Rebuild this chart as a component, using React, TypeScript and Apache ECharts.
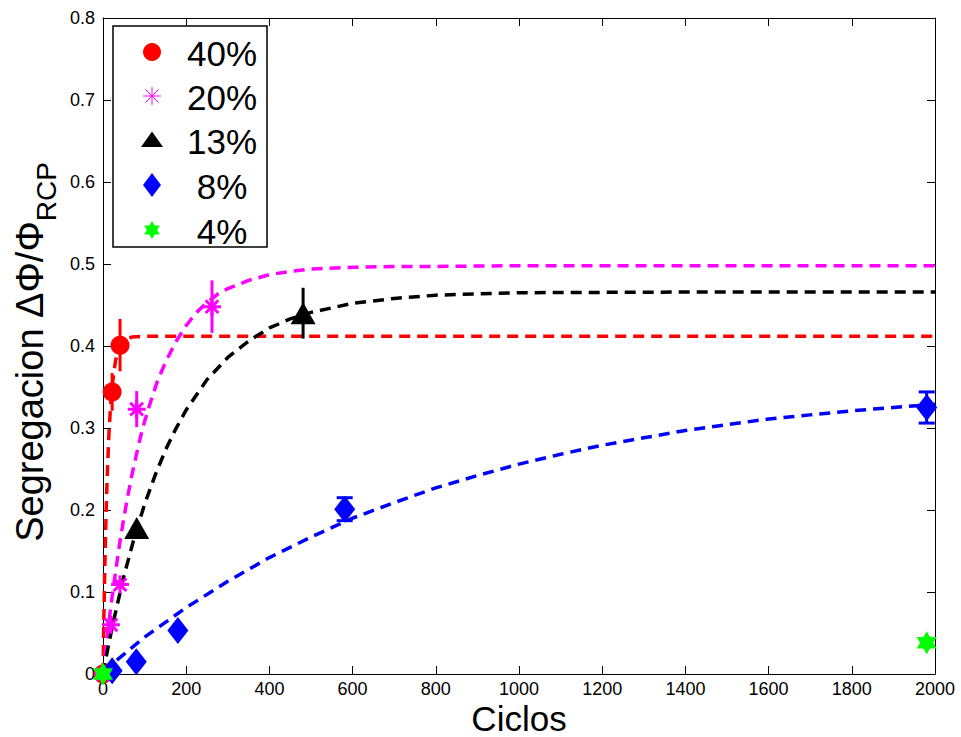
import React, { useEffect, useRef } from 'react';
import * as echarts from 'echarts';

const FONT = '"Liberation Sans", Arial, Helvetica, sans-serif';

// legend / series names and colours
const seriesNames = ['40%', '20%', '13%', '8%', '4%'];
const seriesColors = ['#ff0000', '#ff00ff', '#000000', '#0000ff', '#00ff00'];

// axis ticks
const xTickValues = [0, 200, 400, 600, 800, 1000, 1200, 1400, 1600, 1800, 2000];
const yTickValues = [0, 0.1, 0.2, 0.3, 0.4, 0.5, 0.6, 0.7, 0.8];

// measured points: cycles, segregation, error half-width
const red40X = [0, 22, 41];
const red40Y = [0, 0.344, 0.401];
const red40Err = [0, 0.023, 0.032];

const mag20X = [0, 19, 41, 81, 262];
const mag20Y = [0, 0.06, 0.109, 0.323, 0.448];
const mag20Err = [0, 0, 0, 0.022, 0.032];

const blk13X = [81, 481];
const blk13Y = [0.178, 0.44];
const blk13Err = [0, 0.031];

const blu8X = [22, 80, 180, 581, 1980];
const blu8Y = [0.004, 0.015, 0.053, 0.201, 0.325];
const blu8Err = [0, 0, 0, 0.014, 0.019];

const grn4X = [0, 1980];
const grn4Y = [0, 0.038];

// fitted curves (dashed)
const redFitX = [0, 1, 2, 4, 6, 8, 10, 14, 18, 22, 30, 40, 50, 70, 100, 2000];
const redFitY = [0, 0.034, 0.066, 0.121, 0.167, 0.206, 0.239, 0.29, 0.326, 0.351, 0.382, 0.399, 0.407, 0.411, 0.412, 0.412];

const magFitX = [0, 10, 20, 30, 40, 50, 60, 70, 80, 90, 100, 115, 130, 150, 175, 200, 225, 250, 275, 300, 350, 400, 450, 500, 600, 700, 800, 1000, 2000];
const magFitY = [0, 0.046, 0.087, 0.124, 0.159, 0.19, 0.218, 0.244, 0.267, 0.289, 0.308, 0.333, 0.356, 0.38, 0.405, 0.425, 0.441, 0.453, 0.463, 0.47, 0.48, 0.487, 0.491, 0.494, 0.496, 0.497, 0.497, 0.498, 0.498];

const blkFitX = [0, 10, 25, 50, 75, 100, 125, 150, 175, 200, 250, 300, 350, 400, 450, 500, 600, 700, 800, 1000, 1500, 2000];
const blkFitY = [0, 0.027, 0.064, 0.119, 0.166, 0.207, 0.242, 0.273, 0.299, 0.322, 0.359, 0.386, 0.406, 0.422, 0.433, 0.441, 0.452, 0.458, 0.462, 0.465, 0.466, 0.466];

const bluFitX = [0, 50, 100, 150, 200, 300, 400, 500, 600, 700, 800, 900, 1000, 1100, 1200, 1300, 1400, 1500, 1600, 1700, 1800, 1900, 2000];
const bluFitY = [0.003, 0.024, 0.045, 0.063, 0.081, 0.113, 0.142, 0.167, 0.19, 0.209, 0.227, 0.242, 0.256, 0.268, 0.279, 0.288, 0.297, 0.304, 0.311, 0.316, 0.321, 0.325, 0.329];

const zip = (xs: number[], ys: number[]) => xs.map((x, i) => [x, ys[i]]);
const errData = (xs: number[], ys: number[], es: number[]) =>
  xs.map((x, i) => [x, ys[i], es[i]]).filter((d) => d[2] > 0);

const ASTERISK = 'path://M0,-10L0,10M-10,0L10,0M-7.07,-7.07L7.07,7.07M-7.07,7.07L7.07,-7.07';
const HEXAGRAM = 'path://M0,-10L8.66,5L-8.66,5ZM0,10L-8.66,-5L8.66,-5Z';

function fitSeries(xs: number[], ys: number[], color: string) {
  return {
    type: 'line',
    data: zip(xs, ys),
    showSymbol: false,
    symbol: 'none',
    smooth: false,
    lineStyle: { color, width: 3.5, type: [11, 7] },
    z: 2,
    silent: true,
  };
}

function errSeries(data: number[][], color: string, cap: number) {
  return {
    type: 'custom',
    data,
    z: 3,
    silent: true,
    renderItem: (params: any, api: any) => {
      const x = api.value(0);
      const y = api.value(1);
      const e = api.value(2);
      const top = api.coord([x, y + e]);
      const bot = api.coord([x, y - e]);
      const children: any[] = [
        { type: 'line', shape: { x1: top[0], y1: top[1], x2: bot[0], y2: bot[1] }, style: { stroke: color, lineWidth: 3 } },
      ];
      if (cap > 0) {
        children.push({ type: 'line', shape: { x1: top[0] - cap, y1: top[1], x2: top[0] + cap, y2: top[1] }, style: { stroke: color, lineWidth: 3 } });
        children.push({ type: 'line', shape: { x1: bot[0] - cap, y1: bot[1], x2: bot[0] + cap, y2: bot[1] }, style: { stroke: color, lineWidth: 3 } });
      }
      return { type: 'group', children };
    },
  };
}

function scatterSeries(name: string, xs: number[], ys: number[], color: string, symbol: string, size: any, extra: any = {}) {
  return {
    name,
    type: 'scatter',
    data: zip(xs, ys),
    symbol,
    symbolSize: size,
    itemStyle: { color, opacity: 1, ...extra },
    z: 4,
    silent: true,
  };
}

function legendGraphic() {
  const rows = [52, 96, 140, 185, 230];
  const mx = 152;
  const children: any[] = [
    { type: 'rect', shape: { x: 113, y: 26, width: 154, height: 221 }, style: { fill: '#fff', stroke: '#000', lineWidth: 1.5 } },
  ];
  children.push({ type: 'circle', shape: { cx: mx, cy: rows[0], r: 9 }, style: { fill: seriesColors[0] } });
  const a = rows[1];
  const d = 6.4;
  [[0, -9, 0, 9], [-9, 0, 9, 0], [-d, -d, d, d], [-d, d, d, -d]].forEach((l) =>
    children.push({ type: 'line', shape: { x1: mx + l[0], y1: a + l[1], x2: mx + l[2], y2: a + l[3] }, style: { stroke: seriesColors[1], lineWidth: 1 } })
  );
  children.push({ type: 'polygon', shape: { points: [[mx, rows[2] - 8.5], [mx + 11, rows[2] + 7], [mx - 11, rows[2] + 7]] }, style: { fill: seriesColors[2] } });
  children.push({ type: 'polygon', shape: { points: [[mx, rows[3] - 12], [mx + 9, rows[3]], [mx, rows[3] + 12], [mx - 9, rows[3]]] }, style: { fill: seriesColors[3] } });
  const h = rows[4];
  children.push({ type: 'polygon', shape: { points: [[mx, h - 9], [mx + 7.8, h + 4.5], [mx - 7.8, h + 4.5]] }, style: { fill: seriesColors[4] } });
  children.push({ type: 'polygon', shape: { points: [[mx, h + 9], [mx + 7.8, h - 4.5], [mx - 7.8, h - 4.5]] }, style: { fill: seriesColors[4] } });
  seriesNames.forEach((n, i) =>
    children.push({
      type: 'text',
      x: 222,
      y: rows[i] + 1,
      style: { text: n, fill: '#000', font: `35px ${FONT}`, align: 'center', verticalAlign: 'middle' },
    })
  );
  return { type: 'group', z: 100, children };
}

export default function App() {
  const ref = useRef<HTMLDivElement>(null);
  useEffect(() => {
    if (!ref.current) return;
    const chart = echarts.init(ref.current, undefined, { renderer: 'svg' });
    const axisLine = { show: true, onZero: false, lineStyle: { color: '#000', width: 1 } };
    const axisTick = { show: true, inside: true, length: 8, lineStyle: { color: '#000', width: 1 } };
    const xMin = xTickValues[0];
    const xMax = xTickValues[xTickValues.length - 1];
    const xInt = xTickValues[1] - xTickValues[0];
    const yMin = yTickValues[0];
    const yMax = yTickValues[yTickValues.length - 1];
    const yInt = 0.1;
    const option: any = {
      animation: false,
      backgroundColor: '#fff',
      grid: { left: 103, right: 26, top: 18, bottom: 63, containLabel: false },
      xAxis: [
        {
          type: 'value', min: xMin, max: xMax, interval: xInt, position: 'bottom',
          axisLine, axisTick, splitLine: { show: false },
          axisLabel: { color: '#000', fontSize: 18, fontFamily: FONT, margin: 6, formatter: (v: number) => String(v) },
        },
        {
          type: 'value', min: xMin, max: xMax, interval: xInt, position: 'top',
          axisLine, axisTick, splitLine: { show: false }, axisLabel: { show: false },
        },
      ],
      yAxis: [
        {
          type: 'value', min: yMin, max: yMax, interval: yInt, position: 'left',
          axisLine, axisTick, splitLine: { show: false },
          axisLabel: { color: '#000', fontSize: 18, fontFamily: FONT, margin: 8, formatter: (v: number) => (v === 0 ? '0' : v.toFixed(1)) },
        },
        {
          type: 'value', min: yMin, max: yMax, interval: yInt, position: 'right',
          axisLine, axisTick, splitLine: { show: false }, axisLabel: { show: false },
        },
      ],
      series: [
        fitSeries(redFitX, redFitY, seriesColors[0]),
        fitSeries(magFitX, magFitY, seriesColors[1]),
        fitSeries(blkFitX, blkFitY, seriesColors[2]),
        fitSeries(bluFitX, bluFitY, seriesColors[3]),
        errSeries(errData(red40X, red40Y, red40Err), seriesColors[0], 0),
        errSeries(errData(mag20X, mag20Y, mag20Err), seriesColors[1], 0),
        errSeries(errData(blk13X, blk13Y, blk13Err), seriesColors[2], 0),
        errSeries(errData(blu8X, blu8Y, blu8Err), seriesColors[3], 8),
        scatterSeries(seriesNames[0], red40X, red40Y, seriesColors[0], 'circle', 19),
        scatterSeries(seriesNames[1], mag20X, mag20Y, seriesColors[1], ASTERISK, 18, { borderColor: seriesColors[1], borderWidth: 3 }),
        scatterSeries(seriesNames[2], blk13X, blk13Y, seriesColors[2], 'triangle', [25, 22]),
        scatterSeries(seriesNames[3], blu8X, blu8Y, seriesColors[3], 'diamond', [21, 27]),
        scatterSeries(seriesNames[4], grn4X, grn4Y, seriesColors[4], HEXAGRAM, [20, 23]),
      ],
      graphic: [
        legendGraphic(),
        {
          type: 'text', x: 519, y: 718, z: 100,
          style: { text: 'Ciclos', fill: '#000', font: `35px ${FONT}`, align: 'center', verticalAlign: 'middle' },
        },
        {
          type: 'text', x: 30, y: 352, rotation: Math.PI / 2, z: 100,
          style: {
            text: '{a|Segregacion ΔΦ/Φ}{b|RCP}',
            align: 'center',
            verticalAlign: 'middle',
            rich: {
              a: { fontSize: 38, fontFamily: FONT, fill: '#000', lineHeight: 42 },
              b: { fontSize: 28, fontFamily: FONT, fill: '#000', lineHeight: 30, padding: [32, 0, 0, 0] },
            },
          },
        },
      ],
    };
    chart.setOption(option);
    return () => chart.dispose();
  }, []);
  return <div ref={ref} style={{ position: 'fixed', left: 0, top: 0, width: 961, height: 737, background: '#fff' }} />;
}
